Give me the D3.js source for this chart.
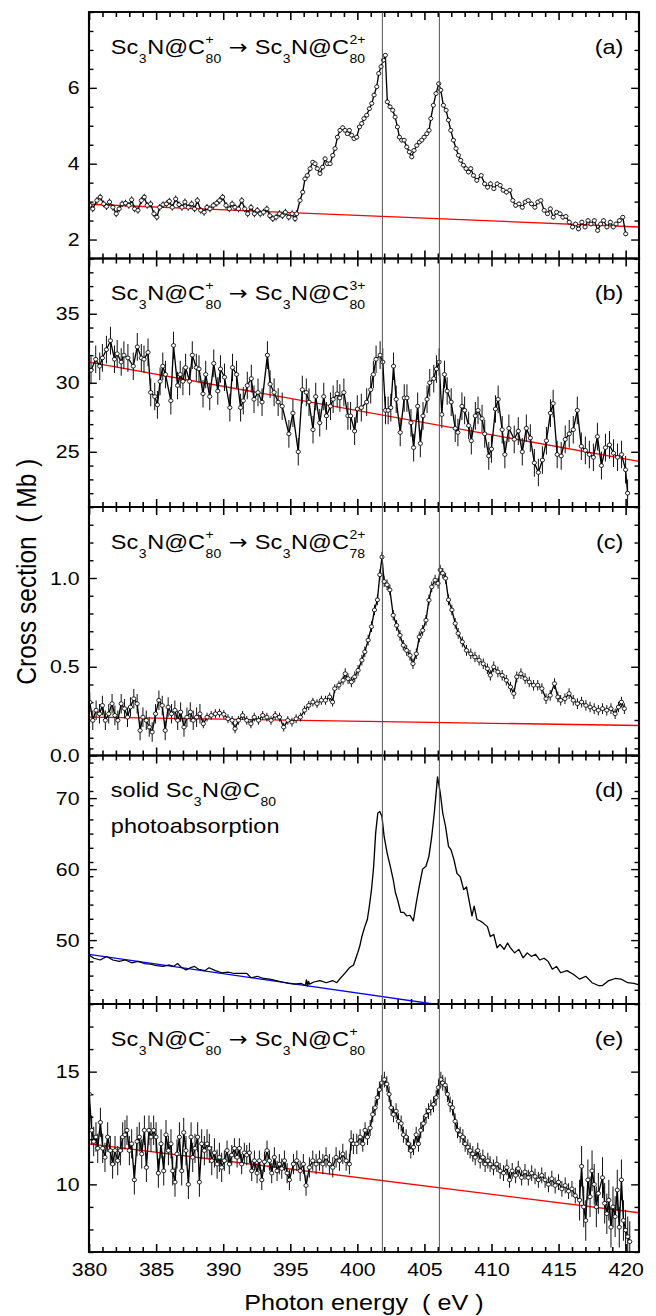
<!DOCTYPE html>
<html>
<head>
<meta charset="utf-8">
<script src="https://cdn.jsdelivr.net/npm/d3@7"></script>
<style>
  html, body { margin: 0; padding: 0; background: #fff; }
  text { white-space: pre; }
</style>
</head>
<body>
<div id="chart"></div>
<script>
(function() {

  // ---------- data (photon energy eV, cross section Mb)
  var xDomain = [380, 421];
  var xMajor = [380, 385, 390, 395, 400, 405, 410, 415, 420];
  var resonances = [401.87, 406.12];

  var panelA = [[380.06,2.90],[380.28,2.81],[380.59,3.03],[380.84,3.12],[381.09,2.94],[381.31,2.87],[381.53,2.99],[381.78,2.85],[382.03,2.68],[382.25,2.81],[382.47,2.94],[382.72,2.96],[382.97,2.90],[383.18,3.05],[383.40,2.81],[383.65,2.77],[383.90,3.03],[384.12,3.12],[384.34,2.90],[384.59,2.94],[384.84,2.68],[385.06,2.59],[385.27,2.85],[385.52,2.92],[385.77,2.94],[385.99,3.01],[386.21,2.85],[386.46,3.07],[386.71,2.92],[386.93,2.85],[387.15,2.99],[387.40,2.85],[387.65,2.94],[387.87,2.81],[388.08,3.03],[388.33,2.77],[388.58,2.72],[388.80,2.85],[389.02,2.81],[389.27,2.90],[389.52,2.96],[389.74,3.03],[389.96,3.12],[390.21,2.90],[390.46,2.81],[390.67,2.94],[390.89,2.85],[391.14,2.81],[391.39,3.03],[391.61,2.81],[391.83,2.68],[392.08,2.85],[392.33,2.68],[392.55,2.77],[392.77,2.68],[393.01,2.72],[393.26,2.81],[393.48,2.63],[393.70,2.55],[393.95,2.59],[394.20,2.68],[394.42,2.63],[394.64,2.72],[394.89,2.59],[395.14,2.68],[395.36,2.55],[395.48,2.68],[395.73,3.03],[395.93,3.25],[396.10,3.60],[396.28,3.69],[396.48,3.87],[396.68,4.04],[396.85,4.00],[397.02,3.87],[397.22,3.74],[397.42,3.91],[397.60,4.13],[397.77,4.00],[397.97,4.00],[398.17,4.22],[398.34,4.40],[398.52,4.70],[398.71,4.88],[398.91,4.95],[399.09,4.88],[399.26,4.79],[399.41,4.88],[399.58,4.75],[399.76,4.66],[399.96,4.70],[400.16,4.97],[400.33,5.06],[400.50,5.19],[400.70,5.28],[400.90,5.45],[401.08,5.59],[401.25,5.81],[401.45,6.03],[401.60,6.38],[401.77,6.56],[401.95,6.73],[402.09,6.86],[402.24,5.63],[402.44,5.50],[402.64,5.41],[402.82,5.23],[402.99,4.97],[403.14,4.70],[403.31,4.62],[403.49,4.62],[403.69,4.44],[403.88,4.31],[404.06,4.18],[404.23,4.35],[404.43,4.48],[404.63,4.57],[404.80,4.62],[404.98,4.70],[405.18,4.79],[405.35,4.88],[405.48,5.19],[405.67,5.54],[405.87,5.85],[406.07,6.11],[406.22,5.94],[406.42,5.54],[406.62,5.41],[406.79,5.15],[406.97,4.88],[407.17,4.62],[407.36,4.40],[407.54,4.22],[407.71,4.09],[407.91,3.96],[408.11,3.87],[408.28,3.78],[408.46,3.87],[408.66,3.69],[408.91,3.56],[409.24,3.69],[409.49,3.47],[409.71,3.38],[409.93,3.47],[410.18,3.34],[410.43,3.47],[410.65,3.43],[410.87,3.30],[411.12,3.25],[411.37,3.30],[411.59,3.03],[411.80,2.90],[412.05,2.94],[412.30,2.85],[412.52,2.99],[412.74,3.03],[412.99,2.94],[413.24,2.85],[413.46,2.99],[413.68,3.03],[413.93,2.77],[414.18,2.68],[414.39,2.81],[414.61,2.59],[414.86,2.72],[415.11,2.68],[415.33,2.59],[415.55,2.61],[415.80,2.46],[416.05,2.33],[416.27,2.41],[416.49,2.28],[416.74,2.46],[416.98,2.33],[417.20,2.50],[417.42,2.41],[417.67,2.50],[417.92,2.24],[418.14,2.41],[418.36,2.50],[418.61,2.33],[418.86,2.46],[419.08,2.33],[419.29,2.41],[419.54,2.50],[419.79,2.59],[420.01,2.15]];

  var panelB = [[380.15,30.9],[380.5,31.7],[380.8,31.2],[381.0,31.8],[381.3,32.4],[381.6,33.05],[381.9,31.7],[382.1,32.1],[382.4,31.5],[382.6,32.0],[382.9,31.8],[383.3,31.2],[383.6,32.6],[383.9,31.8],[384.1,31.7],[384.4,32.2],[384.6,29.3],[384.9,29.0],[385.1,28.4],[385.3,30.1],[385.5,31.2],[385.7,30.6],[386.1,28.7],[386.3,32.7],[386.6,29.8],[386.8,30.6],[387.0,30.1],[387.2,31.1],[387.5,30.1],[387.7,32.0],[388.0,31.1],[388.2,31.0],[388.5,29.2],[388.7,30.6],[389.0,29.0],[389.3,31.4],[389.6,29.4],[389.8,31.0],[390.1,30.4],[390.5,28.2],[390.7,31.1],[391.0,30.6],[391.3,28.2],[391.5,28.7],[391.8,29.8],[392.1,30.3],[392.3,28.8],[392.6,29.3],[392.9,28.6],[393.3,32.0],[393.5,29.9],[393.8,29.3],[394.1,28.6],[394.4,28.3],[394.9,26.3],[395.2,27.8],[395.6,25.0],[395.9,29.5],[396.2,29.3],[396.4,28.6],[396.7,26.6],[396.9,29.0],[397.2,27.1],[397.5,29.0],[397.7,27.6],[398.0,28.3],[398.2,28.8],[398.5,29.2],[398.7,28.9],[399.0,29.3],[399.3,27.6],[399.5,27.6],[399.8,26.5],[400.0,28.1],[400.3,28.2],[400.7,28.6],[401.0,29.5],[401.2,30.6],[401.4,31.7],[401.7,32.0],[401.9,31.5],[402.1,28.0],[402.3,28.0],[402.5,28.2],[402.7,31.2],[402.9,28.8],[403.2,26.4],[403.5,28.9],[403.7,28.9],[404.0,27.1],[404.2,25.3],[404.5,28.3],[404.7,25.6],[404.9,27.6],[405.2,28.8],[405.4,30.0],[405.7,30.3],[405.9,31.0],[406.1,31.5],[406.3,27.7],[406.5,30.6],[406.7,29.4],[407.0,28.6],[407.3,26.7],[407.5,26.4],[407.8,28.3],[408.0,28.0],[408.3,26.9],[408.5,25.8],[408.8,27.6],[409.0,28.0],[409.3,27.4],[409.5,26.3],[409.8,24.7],[410.0,25.2],[410.3,28.1],[410.5,28.8],[410.8,26.6],[411.0,24.8],[411.3,26.7],[411.7,25.9],[412.0,26.5],[412.3,25.0],[412.6,26.7],[412.9,26.0],[413.2,24.2],[413.5,23.5],[413.8,24.4],[414.1,25.8],[414.4,27.8],[414.6,28.5],[414.9,24.8],[415.2,24.7],[415.5,25.9],[415.8,26.3],[416.1,26.6],[416.4,28.0],[416.7,25.4],[417.0,25.1],[417.3,24.8],[417.6,24.6],[417.9,26.1],[418.2,24.0],[418.5,25.3],[418.8,25.5],[419.1,24.9],[419.4,24.6],[419.7,24.8],[420.0,23.7],[420.15,22.0]];

  var panelC = [[380.06,0.300],[380.28,0.198],[380.53,0.255],[380.78,0.235],[381.00,0.282],[381.22,0.198],[381.47,0.235],[381.72,0.292],[381.93,0.226],[382.15,0.198],[382.40,0.292],[382.65,0.264],[382.87,0.216],[383.09,0.273],[383.34,0.320],[383.59,0.292],[383.81,0.141],[384.02,0.216],[384.27,0.198],[384.49,0.160],[384.71,0.132],[384.96,0.235],[385.21,0.311],[385.46,0.282],[385.68,0.141],[385.90,0.273],[386.15,0.235],[386.40,0.255],[386.61,0.198],[386.83,0.245],[387.08,0.160],[387.30,0.216],[387.55,0.245],[387.77,0.198],[388.02,0.216],[388.27,0.235],[388.52,0.179],[388.80,0.216],[389.11,0.226],[389.42,0.235],[389.73,0.239],[390.05,0.232],[390.36,0.207],[390.67,0.198],[390.89,0.151],[391.14,0.198],[391.45,0.226],[391.76,0.198],[392.07,0.179],[392.32,0.216],[392.64,0.198],[392.95,0.226],[393.26,0.216],[393.57,0.198],[393.88,0.226],[394.20,0.216],[394.51,0.160],[394.82,0.198],[395.13,0.188],[395.44,0.207],[395.76,0.216],[396.07,0.255],[396.38,0.282],[396.69,0.301],[397.00,0.292],[397.32,0.311],[397.63,0.311],[397.94,0.330],[398.16,0.301],[398.32,0.377],[398.63,0.396],[398.94,0.424],[399.10,0.461],[399.31,0.433],[399.56,0.414],[399.81,0.443],[400.06,0.480],[400.34,0.537],[400.56,0.584],[400.81,0.650],[401.06,0.726],[401.28,0.820],[401.50,0.877],[401.68,1.018],[401.84,1.118],[402.00,0.980],[402.22,0.962],[402.43,0.933],[402.68,0.790],[402.93,0.733],[403.18,0.677],[403.43,0.621],[403.68,0.592],[403.93,0.564],[404.15,0.517],[404.40,0.573],[404.62,0.668],[404.87,0.705],[405.12,0.762],[405.34,0.875],[405.55,0.950],[405.80,0.988],[406.02,0.970],[406.18,1.045],[406.37,1.027],[406.58,0.998],[406.80,0.877],[407.05,0.820],[407.30,0.744],[407.52,0.688],[407.83,0.640],[408.14,0.592],[408.46,0.573],[408.77,0.555],[409.08,0.537],[409.39,0.517],[409.70,0.489],[409.92,0.452],[410.17,0.499],[410.48,0.471],[410.80,0.452],[411.11,0.424],[411.42,0.386],[411.67,0.349],[411.89,0.443],[412.20,0.461],[412.51,0.433],[412.82,0.414],[413.14,0.396],[413.45,0.396],[413.76,0.377],[414.07,0.320],[414.38,0.339],[414.70,0.405],[414.95,0.330],[415.16,0.311],[415.48,0.320],[415.79,0.349],[416.10,0.311],[416.41,0.292],[416.72,0.301],[417.04,0.282],[417.35,0.273],[417.66,0.264],[417.97,0.255],[418.28,0.264],[418.60,0.255],[418.91,0.264],[419.22,0.235],[419.47,0.273],[419.69,0.301],[419.91,0.264]];

  var panelD = [[380.00,47.9],[380.37,47.45],[380.84,47.2],[381.31,47.7],[381.78,47.2],[382.25,47.0],[382.71,47.2],[383.18,46.8],[383.65,47.0],[384.12,46.7],[384.59,46.6],[385.05,46.4],[385.52,46.3],[385.99,46.5],[386.30,46.3],[386.61,46.7],[386.93,46.1],[387.24,45.8],[387.55,46.1],[387.86,46.3],[388.17,45.9],[388.64,45.7],[388.95,46.1],[389.42,45.7],[389.89,45.4],[390.36,45.5],[390.83,45.3],[391.29,45.3],[391.76,45.3],[392.07,44.7],[392.54,44.9],[393.01,44.6],[393.48,44.5],[393.95,44.3],[394.41,44.1],[394.88,43.9],[395.35,43.8],[395.82,43.9],[396.13,43.6],[396.21,44.4],[396.29,43.5],[396.36,44.2],[396.44,43.8],[396.76,44.1],[397.22,44.3],[397.69,44.0],[398.16,44.3],[398.47,44.0],[398.78,44.7],[399.10,45.4],[399.41,46.1],[399.72,46.5],[400.03,48.2],[400.19,49.2],[400.34,50.5],[400.56,51.9],[400.75,52.9],[400.90,54.8],[401.06,57.1],[401.22,60.4],[401.37,65.1],[401.53,67.9],[401.68,68.1],[401.84,67.4],[402.00,64.6],[402.22,62.3],[402.46,60.4],[402.68,58.5],[402.84,56.7],[403.00,55.7],[403.24,53.9],[403.46,53.9],[403.68,53.4],[403.93,53.5],[404.18,52.7],[404.40,55.3],[404.62,57.6],[404.87,60.0],[405.12,60.4],[405.34,61.8],[405.55,64.6],[405.74,67.9],[405.90,71.2],[405.98,73.0],[406.18,70.8],[406.37,67.9],[406.58,66.0],[406.80,63.2],[406.99,62.7],[407.21,61.3],[407.43,59.4],[407.68,58.9],[407.93,57.1],[408.14,57.5],[408.36,55.3],[408.55,53.4],[408.71,54.8],[408.92,52.9],[409.17,52.7],[409.39,52.4],[409.70,51.9],[409.92,50.5],[410.17,50.8],[410.42,48.9],[410.64,49.4],[410.95,48.7],[411.20,49.6],[411.42,48.9],[411.73,48.2],[412.04,48.7],[412.36,47.5],[412.67,48.2],[412.98,47.7],[413.29,48.0],[413.60,47.2],[413.92,47.45],[414.23,47.0],[414.54,45.9],[414.85,46.3],[415.16,45.4],[415.63,45.7],[416.10,45.2],[416.57,44.5],[417.04,44.9],[417.50,44.0],[417.97,43.6],[418.28,43.6],[418.75,44.3],[419.22,44.6],[419.69,44.5],[420.16,44.0],[420.62,43.9],[421.00,43.7]];

  var panelE = [[380.02,14.0],[380.20,12.4],[380.35,11.9],[380.52,12.1],[380.65,11.6],[380.85,12.75],[381.02,11.6],[381.19,11.2],[381.39,12.1],[381.59,11.5],[381.76,10.9],[381.94,11.5],[382.14,11.05],[382.34,11.5],[382.51,12.1],[382.68,12.2],[382.83,12.4],[383.01,11.5],[383.18,11.8],[383.38,10.2],[383.58,11.9],[383.75,12.1],[383.93,11.35],[384.13,12.4],[384.28,10.75],[384.47,12.4],[384.62,12.1],[384.82,12.4],[385.00,12.1],[385.17,10.5],[385.37,11.8],[385.57,10.6],[385.74,12.2],[385.92,11.5],[386.11,11.8],[386.24,10.6],[386.41,10.1],[386.56,11.35],[386.74,12.1],[386.91,10.6],[387.06,12.3],[387.23,11.5],[387.41,10.0],[387.61,12.1],[387.73,11.2],[387.90,11.6],[388.10,12.1],[388.23,10.1],[388.40,11.8],[388.60,11.5],[388.80,11.8],[388.97,11.6],[389.15,11.05],[389.35,11.4],[389.55,10.9],[389.72,11.2],[389.89,10.75],[390.09,11.05],[390.29,11.5],[390.46,10.9],[390.64,11.3],[390.84,11.6],[391.04,11.2],[391.21,11.6],[391.38,10.9],[391.58,11.4],[391.76,11.3],[391.96,11.4],[392.13,10.6],[392.33,11.05],[392.53,10.5],[392.70,11.05],[392.88,10.2],[393.08,11.0],[393.27,11.5],[393.45,11.05],[393.62,10.5],[393.82,11.2],[394.02,10.6],[394.19,10.9],[394.37,10.7],[394.57,11.05],[394.77,10.5],[394.94,10.2],[395.24,10.9],[395.49,11.05],[395.74,10.6],[395.98,10.9],[396.18,9.95],[396.43,10.75],[396.68,11.05],[396.93,10.9],[397.18,11.05],[397.43,10.9],[397.67,11.2],[397.92,10.9],[398.17,10.75],[398.42,11.2],[398.67,11.05],[398.92,11.35],[399.17,11.05],[399.41,10.9],[399.54,11.95],[399.71,11.8],[399.96,11.8],[400.21,12.1],[400.41,11.8],[400.58,12.4],[400.76,12.1],[400.96,12.5],[401.15,13.1],[401.33,13.4],[401.50,13.85],[401.65,14.2],[401.83,14.5],[402.02,14.65],[402.20,14.45],[402.37,14.0],[402.52,13.4],[402.70,13.1],[402.89,13.25],[403.07,12.8],[403.27,12.7],[403.44,12.2],[403.64,12.1],[403.81,11.8],[403.99,11.5],[404.19,11.65],[404.39,12.2],[404.56,11.8],[404.73,12.4],[404.93,12.7],[405.13,13.05],[405.31,13.25],[405.48,13.4],[405.68,13.55],[405.88,13.85],[406.05,14.3],[406.23,14.65],[406.37,14.5],[406.55,14.4],[406.72,14.0],[406.92,13.55],[407.10,13.4],[407.29,12.8],[407.47,12.4],[407.67,12.2],[407.87,12.1],[408.04,11.8],[408.24,11.65],[408.41,11.5],[408.61,11.35],[408.79,11.2],[408.98,11.5],[409.16,11.05],[409.36,11.2],[409.53,10.9],[409.73,11.05],[409.90,10.9],[410.15,10.75],[410.40,10.9],[410.65,10.6],[410.90,10.5],[411.15,10.75],[411.35,10.2],[411.55,10.6],[411.80,10.4],[412.00,10.7],[412.25,10.3],[412.50,10.55],[412.75,10.3],[413.00,10.5],[413.25,10.35],[413.50,10.2],[413.75,10.4],[414.00,10.2],[414.25,10.0],[414.50,10.25],[414.75,9.95],[415.00,10.1],[415.25,9.8],[415.50,9.95],[415.75,9.7],[416.00,9.8],[416.25,9.5],[416.57,9.3],[416.72,10.8],[416.88,9.0],[417.03,8.4],[417.19,10.2],[417.35,9.45],[417.50,10.6],[417.66,10.0],[417.82,9.0],[417.97,9.6],[418.28,10.3],[418.44,9.16],[418.60,8.7],[418.75,9.3],[418.91,8.1],[419.06,9.0],[419.22,8.57],[419.38,9.75],[419.53,8.1],[419.69,10.2],[419.84,8.4],[420.00,7.97],[420.16,7.68],[420.31,7.46]];

  // error bar half-widths per energy band: [from, to, err]
  var errBandsA = [[380, 395.5, 0.09], [395.5, 421, 0.06]];
  var errBandsB = [[380, 421, 1.0]];
  var errBandsC = [[380, 388.5, 0.055], [388.5, 399, 0.025], [399, 421, 0.03]];
  var errBandsE = [[380, 390, 0.65], [390, 400, 0.45], [400, 416.5, 0.35], [416.5, 421, 0.9]];

  // fitted backgrounds: [energy, value] end points
  var baseA = [[380, 2.93], [421, 2.33]];
  var baseB = [[380, 31.5], [421, 24.3]];
  var baseC = [[380, 0.216], [421, 0.169]];
  var baseD = [[380, 48.0], [405.66, 41.0]];
  var baseE = [[380, 11.8], [421, 8.74]];

  var yDomA = [1.5, 8], yDomB = [21, 39], yDomC = [0, 1.4], yDomD = [41, 76], yDomE = [7, 18];
  var yTicksA = [2, 4, 6], yTicksB = [25, 30, 35], yTicksC = [0, 0.5, 1.0], yTicksD = [50, 60, 70], yTicksE = [10, 15];
  var yMinorA = 0.5, yMinorB = 1, yMinorC = 0.1, yMinorD = 2, yMinorE = 1;

  var tags = ['(a)', '(b)', '(c)', '(d)', '(e)'];
  var ARROW = {t: ' \u2192 ', font: '"DejaVu Sans", sans-serif', size: 20};
  var formulaA = [{t: 'Sc', sub: '3'}, {t: 'N@C', sup: '+', sub: '80'}, ARROW, {t: 'Sc', sub: '3'}, {t: 'N@C', sup: '2+', sub: '80'}];
  var formulaB = [{t: 'Sc', sub: '3'}, {t: 'N@C', sup: '+', sub: '80'}, ARROW, {t: 'Sc', sub: '3'}, {t: 'N@C', sup: '3+', sub: '80'}];
  var formulaC = [{t: 'Sc', sub: '3'}, {t: 'N@C', sup: '+', sub: '80'}, ARROW, {t: 'Sc', sub: '3'}, {t: 'N@C', sup: '2+', sub: '78'}];
  var formulaD = [{t: 'solid Sc', sub: '3'}, {t: 'N@C', sub: '80'}];
  var formulaE = [{t: 'Sc', sub: '3'}, {t: 'N@C', sup: '-', sub: '80'}, ARROW, {t: 'Sc', sub: '3'}, {t: 'N@C', sup: '+', sub: '80'}];

  // ---------- layout
  var FONT = '"Liberation Sans", Arial, Helvetica, sans-serif';
  var SX = 1.12;               // the original figure is slightly stretched horizontally
  var W = 656, H = 1316;
  var left = 89 / SX, right = 639 / SX;
  var edges = [12, 258.5, 507, 755.5, 1004, 1252];

  var panels = [
    {data: panelA, dom: yDomA, ticks: yTicksA, minor: yMinorA, err: errBandsA, base: baseA, color: '#ff0000', formula: formulaA, fmt: d3.format('d')},
    {data: panelB, dom: yDomB, ticks: yTicksB, minor: yMinorB, err: errBandsB, base: baseB, color: '#ff0000', formula: formulaB, fmt: d3.format('d')},
    {data: panelC, dom: yDomC, ticks: yTicksC, minor: yMinorC, err: errBandsC, base: baseC, color: '#ff0000', formula: formulaC, fmt: d3.format('.1f')},
    {data: panelD, dom: yDomD, ticks: yTicksD, minor: yMinorD, err: null, base: baseD, color: '#0000ff', formula: formulaD, fmt: d3.format('d'), extra: 'photoabsorption'},
    {data: panelE, dom: yDomE, ticks: yTicksE, minor: yMinorE, err: errBandsE, base: baseE, color: '#ff0000', formula: formulaE, fmt: d3.format('d')}
  ];

  var svg = d3.select('#chart').append('svg')
    .attr('width', W)
    .attr('height', H)
    .style('display', 'block');

  var root = svg.append('g')
    .attr('transform', 'scale(' + SX + ',1)')
    .attr('font-family', FONT);

  var x = d3.scaleLinear().domain(xDomain).range([left, right]);
  var xMinor = d3.range(381, 421, 1).filter(function(v) { return v % 5 !== 0; });

  // ----------
  function errFor(bands, e) {
    for (var i = 0; i < bands.length; i++) {
      if (e >= bands[i][0] && e < bands[i][1]) {
        return bands[i][2];
      }
    }
    return bands[bands.length - 1][2];
  }

  // ----------
  function minorValues(dom, step) {
    var out = [];
    var n = Math.round((dom[1] - dom[0]) / step);
    for (var i = 0; i <= n; i++) {
      out.push(+(dom[0] + i * step).toFixed(4));
    }
    return out;
  }

  // ----------
  function drawFormula(g, x0, y0, parts) {
    var cx = x0;
    parts.forEach(function(p) {
      var t = g.append('text')
        .attr('x', cx)
        .attr('y', y0)
        .attr('font-size', p.size || 21)
        .text(p.t);
      if (p.font) {
        t.attr('font-family', p.font);
      }
      cx += t.node().getComputedTextLength();

      if (p.sub || p.sup) {
        var w = 0;
        if (p.sup) {
          var s = g.append('text')
            .attr('x', cx + 0.5)
            .attr('y', y0 - 10)
            .attr('font-size', 12.5)
            .text(p.sup);
          w = Math.max(w, s.node().getComputedTextLength());
        }
        if (p.sub) {
          var b = g.append('text')
            .attr('x', cx + 0.5)
            .attr('y', y0 + 9)
            .attr('font-size', 12.5)
            .text(p.sub);
          w = Math.max(w, b.node().getComputedTextLength());
        }
        cx += w + 1;
      }
    });
  }

  // ---------- panels
  panels.forEach(function(p, i) {
    var top = edges[i], bottom = edges[i + 1];
    var last = i === panels.length - 1;
    var y = d3.scaleLinear().domain(p.dom).range([bottom, top]);
    var g = root.append('g');

    var clipId = 'clip' + i;
    g.append('clipPath').attr('id', clipId)
      .append('rect')
      .attr('x', left).attr('y', top)
      .attr('width', right - left).attr('height', bottom - top);

    // axes, ticks pointing inward on all sides
    var axes = g.append('g').attr('class', 'axes');

    axes.append('g')
      .attr('transform', 'translate(0,' + bottom + ')')
      .call(d3.axisBottom(x).tickValues(xMajor).tickSize(-8).tickSizeOuter(0).tickPadding(11)
        .tickFormat(last ? d3.format('d') : function() { return ''; }));
    axes.append('g')
      .attr('transform', 'translate(0,' + bottom + ')')
      .call(d3.axisBottom(x).tickValues(xMinor).tickSize(-5).tickSizeOuter(0).tickFormat(''));
    axes.append('g')
      .attr('transform', 'translate(0,' + top + ')')
      .call(d3.axisTop(x).tickValues(xMajor).tickSize(-8).tickSizeOuter(0).tickFormat(''));
    axes.append('g')
      .attr('transform', 'translate(0,' + top + ')')
      .call(d3.axisTop(x).tickValues(xMinor).tickSize(-5).tickSizeOuter(0).tickFormat(''));

    var minor = minorValues(p.dom, p.minor).filter(function(v) { return p.ticks.indexOf(v) < 0; });
    axes.append('g')
      .attr('transform', 'translate(' + left + ',0)')
      .call(d3.axisLeft(y).tickValues(p.ticks).tickSize(-7).tickSizeOuter(0).tickPadding(8.5).tickFormat(p.fmt));
    axes.append('g')
      .attr('transform', 'translate(' + left + ',0)')
      .call(d3.axisLeft(y).tickValues(minor).tickSize(-4).tickSizeOuter(0).tickFormat(''));
    axes.append('g')
      .attr('transform', 'translate(' + right + ',0)')
      .call(d3.axisRight(y).tickValues(p.ticks).tickSize(-7).tickSizeOuter(0).tickFormat(''));
    axes.append('g')
      .attr('transform', 'translate(' + right + ',0)')
      .call(d3.axisRight(y).tickValues(minor).tickSize(-4).tickSizeOuter(0).tickFormat(''));

    axes.selectAll('.domain').remove();
    axes.selectAll('.tick line').attr('stroke', '#000').attr('stroke-width', 1.4);
    axes.selectAll('.tick text')
      .attr('fill', '#000')
      .attr('font-family', FONT)
      .attr('font-size', 19);
    axes.selectAll('g').attr('font-family', null).attr('font-size', null);

    // fitted background
    var data = g.append('g').attr('clip-path', 'url(#' + clipId + ')');

    data.append('path')
      .datum(p.base)
      .attr('fill', 'none')
      .attr('stroke', p.color)
      .attr('stroke-width', 1.3)
      .attr('d', d3.line().x(function(d) { return x(d[0]); }).y(function(d) { return y(d[1]); }));

    // error bars
    if (p.err) {
      data.append('g')
        .selectAll('line')
        .data(p.data)
        .join('line')
        .attr('x1', function(d) { return x(d[0]); })
        .attr('x2', function(d) { return x(d[0]); })
        .attr('y1', function(d) { return y(d[1] - errFor(p.err, d[0])); })
        .attr('y2', function(d) { return y(d[1] + errFor(p.err, d[0])); })
        .attr('stroke', '#111')
        .attr('stroke-width', 0.9);
    }

    // data line
    data.append('path')
      .datum(p.data)
      .attr('fill', 'none')
      .attr('stroke', '#000')
      .attr('stroke-width', 1.2)
      .attr('stroke-linejoin', 'round')
      .attr('d', d3.line().x(function(d) { return x(d[0]); }).y(function(d) { return y(d[1]); }));

    // open circle markers
    if (p.err) {
      data.append('g')
        .selectAll('circle')
        .data(p.data)
        .join('circle')
        .attr('cx', function(d) { return x(d[0]); })
        .attr('cy', function(d) { return y(d[1]); })
        .attr('r', 1.9)
        .attr('fill', '#fff')
        .attr('stroke', '#000')
        .attr('stroke-width', 0.8);
    }

    // frame
    g.append('rect')
      .attr('x', left).attr('y', top)
      .attr('width', right - left).attr('height', bottom - top)
      .attr('fill', 'none')
      .attr('stroke', '#000')
      .attr('stroke-width', 1.9);

    // labels
    drawFormula(g, 99, top + 42, p.formula);
    if (p.extra) {
      g.append('text')
        .attr('x', 99)
        .attr('y', top + 78)
        .attr('font-size', 21)
        .text(p.extra);
    }
    g.append('text')
      .attr('x', 556.6)
      .attr('y', top + 42)
      .attr('text-anchor', 'end')
      .attr('font-size', 21)
      .text(tags[i]);
  });

  // ---------- resonance markers through all panels
  root.append('g')
    .selectAll('line')
    .data(resonances)
    .join('line')
    .attr('x1', function(d) { return x(d); })
    .attr('x2', function(d) { return x(d); })
    .attr('y1', edges[0])
    .attr('y2', edges[edges.length - 1])
    .attr('stroke', '#555')
    .attr('stroke-width', 0.9);

  // ---------- axis titles
  root.append('text')
    .attr('x', (left + right) / 2)
    .attr('y', 1310)
    .attr('text-anchor', 'middle')
    .attr('font-size', 22.5)
    .text('Photon energy  ( eV )');

  root.append('text')
    .attr('transform', 'translate(31.8,571.7) rotate(-90)')
    .attr('text-anchor', 'middle')
    .attr('font-size', 24.5)
    .text('Cross section  ( Mb )');

})();
</script>
</body>
</html>
